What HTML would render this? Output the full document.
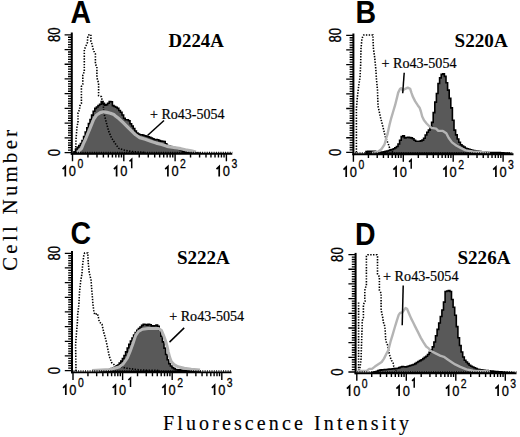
<!DOCTYPE html>
<html><head><meta charset="utf-8"><style>
html,body{margin:0;padding:0;background:#fff;}
body{width:520px;height:437px;overflow:hidden;}
svg{display:block;}
.tl{font-family:"Liberation Sans",sans-serif;font-size:14px;fill:#000;stroke:#000;stroke-width:0.3px;}
.ts{font-family:"Liberation Sans",sans-serif;font-size:12.5px;fill:#000;stroke:#000;stroke-width:0.3px;}
.yl{font-family:"Liberation Sans",sans-serif;font-size:16.5px;fill:#000;stroke:#000;stroke-width:0.3px;}
.ro{font-family:"Liberation Serif",serif;font-size:14px;fill:#000;stroke:#000;stroke-width:0.2px;}
.ti{font-family:"Liberation Serif",serif;font-size:18.5px;font-weight:bold;fill:#000;}
.pl{font-family:"Liberation Sans",sans-serif;font-size:28.5px;font-weight:bold;fill:#000;}
.ax{font-family:"Liberation Serif",serif;font-size:20px;fill:#000;stroke:#000;stroke-width:0.15px;}
.ay{font-family:"Liberation Serif",serif;font-size:20.6px;fill:#000;stroke:#000;stroke-width:0.15px;}
</style></head><body>
<svg width="520" height="437" viewBox="0 0 520 437">
<rect width="520" height="437" fill="#fff"/>
<path d="M74.00 153.50V151.90H75.60V148.99H77.20V147.33H78.80V145.53H80.40V143.59H82.00V140.64H83.60V136.60H85.20V132.05H86.80V127.73H88.40V123.54H90.00V119.43H91.60V115.10H93.20V111.30H94.80V108.42H96.40V106.94H98.00V105.54H99.60V104.23H101.20V101.59H102.80V103.35H104.40V105.20H106.00V104.67H107.60V103.20H109.20V101.45H110.80V101.76H112.40V105.66H114.00V106.49H115.60V107.32H117.20V108.40H118.80V110.53H120.40V112.20H122.00V115.06H123.60V118.18H125.20V119.70H126.80V119.70H128.40V120.68H130.00V123.80H131.60V125.93H133.20V128.47H134.80V130.93H136.40V132.95H138.00V134.13H139.60V134.80H141.20V134.80H142.80V135.18H144.40V135.73H146.00V136.27H147.60V136.81H149.20V137.36H150.80V138.04H152.40V138.82H154.00V139.60H155.60V139.60H157.20V139.81H158.80V140.64H160.40V141.11H162.00V141.30H163.60V141.49H165.20V143.72H166.80V145.43H168.40V146.03H170.00V146.64H171.60V147.13H173.20V147.54H174.80V147.95H176.40V148.47H178.00V149.06H179.60V149.65H181.20V150.73H182.80V151.61H184.40V151.91H186.00V152.21H187.60V152.50H189.20V152.80H190.80V152.88H192.40V152.96H194.00V153.04H195.60V153.12H197.20V153.20H198.80V153.27H200.00V153.30Z" fill="#595959" stroke="#000" stroke-width="1.6" stroke-linejoin="miter"/>
<polyline points="75.5,153.0 76.0,140.0 77.0,126.0 78.0,123.0 78.0,112.7 79.7,109.3 79.7,105.9 81.4,103.6 81.4,86.4 82.8,84.1 82.8,75.1 84.3,71.7 84.3,49.4 85.7,46.6 87.4,42.6 87.8,36.3 89.0,34.8 90.9,34.6 90.9,41.4 92.3,44.9 92.6,47.7 93.9,51.1 95.4,54.0 95.4,64.3 96.9,66.6 96.9,76.1 97.4,79.6 98.6,83.0 98.6,95.6 101.4,96.7 102.0,99.6 103.1,101.9 103.8,112.6 106.3,122.6 108.8,131.4 111.4,137.7 113.9,141.5 116.4,145.3 118.9,148.4 122.7,149.7 127.7,150.9 132.7,151.6 145.0,152.5" fill="none" stroke="#000" stroke-width="1.6" stroke-dasharray="1.4 1.4"/>
<polyline points="77.5,152.5 81.5,148.4 83.3,143.9 85.6,139.0 88.3,132.5 91.0,125.8 93.8,119.0 96.6,115.0 100.3,112.6 103.5,111.8 107.0,112.4 110.4,113.2 113.8,114.6 115.5,116.0 119.1,118.8 123.2,122.7 127.4,126.8 131.5,130.9 135.6,134.8 139.7,137.6 145.2,139.2 150.7,141.2 156.2,143.1 161.7,144.5 167.0,146.3 173.8,147.5 180.8,148.7 185.4,149.8 191.2,150.8 196.0,152.0" fill="none" stroke="#b4b4b4" stroke-width="3.2" stroke-linejoin="round"/>
<path d="M366.00 153.30V151.62H367.60V151.20H369.20V151.20H370.80V151.20H372.40V151.20H374.00V151.20H375.60V152.40H377.20V153.09H378.80V152.75H380.40V152.41H382.00V152.07H383.60V151.73H385.20V151.39H386.80V150.99H388.40V150.52H390.00V150.04H391.60V149.57H393.20V148.81H394.80V147.69H396.40V146.56H398.00V144.06H399.60V140.18H401.20V136.60H402.80V135.73H404.40V137.87H406.00V137.56H407.60V137.40H409.20V137.64H410.80V137.87H412.40V138.70H414.00V140.30H415.60V141.20H417.20V141.20H418.80V141.20H420.40V140.87H422.00V140.12H423.60V138.28H425.20V135.03H426.80V132.25H428.40V130.09H430.00V127.12H431.60V122.39H433.20V112.62H434.80V102.14H436.40V93.54H438.00V83.46H439.60V77.90H441.20V74.40H442.80V73.68H444.40V76.40H446.00V82.80H447.60V90.16H449.20V98.39H450.80V107.92H452.40V120.26H454.00V130.10H455.60V134.90H457.20V138.97H458.80V142.31H460.40V144.77H462.00V145.96H463.60V147.14H465.20V148.20H466.80V148.73H468.40V149.27H470.00V149.80H471.60V150.33H473.20V150.63H474.80V150.89H476.40V151.14H478.00V151.40H479.60V151.61H481.20V151.78H482.80V151.96H484.40V152.13H486.00V152.30H487.60V152.48H489.20V152.50H490.80V152.50H492.40V152.50H494.00V152.50H495.60V152.50H497.20V152.52H498.80V152.62H500.40V152.73H502.00V152.83H503.60V152.94H505.20V153.04H506.80V153.14H508.40V153.25H510.00V153.30Z" fill="#595959" stroke="#000" stroke-width="1.6" stroke-linejoin="miter"/>
<polyline points="356.4,152.5 356.4,108.7 357.3,97.7 358.8,85.0 360.0,77.6 360.6,66.6 361.0,48.3 361.9,39.2 362.8,36.4 363.7,35.0 372.9,35.0 373.4,48.3 374.7,57.5 375.6,66.6 376.5,79.4 377.5,90.4 378.0,106.0 380.5,117.2 382.9,126.8 385.3,136.5 388.5,144.5 390.0,149.3 393.0,152.5" fill="none" stroke="#000" stroke-width="1.6" stroke-dasharray="1.4 1.4"/>
<polyline points="372.0,153.0 378.0,151.7 381.3,149.3 384.5,144.5 386.3,138.0 387.5,134.2 389.4,125.3 391.3,117.8 393.2,111.5 395.1,105.2 397.0,97.6 398.2,92.6 400.1,88.8 401.4,88.2 402.6,90.5 405.2,88.8 407.7,87.6 410.2,88.8 411.4,92.6 412.7,96.4 415.2,101.4 417.7,105.2 419.6,107.7 420.9,111.5 422.2,116.5 424.0,120.3 426.6,123.5 429.1,126.0 431.6,127.9 436.0,128.6 438.3,130.9 442.9,130.9 446.3,133.2 448.6,137.8 452.0,142.4 456.6,145.8 461.1,148.1 465.7,150.4 472.6,151.5 490.0,152.8" fill="none" stroke="#b4b4b4" stroke-width="2.4" stroke-linejoin="round"/>
<path d="M100.00 371.60V371.43H101.60V371.10H103.20V370.76H104.80V370.42H106.40V370.09H108.00V369.75H109.60V369.31H111.20V368.54H112.80V367.77H114.40V367.00H116.00V366.23H117.60V364.98H119.20V363.11H120.80V361.09H122.40V358.66H124.00V355.54H125.60V351.84H127.20V348.00H128.80V344.34H130.40V341.00H132.00V337.93H133.60V335.09H135.20V332.59H136.80V330.25H138.40V328.60H140.00V327.00H141.60V325.40H143.20V324.25H144.80V324.45H146.40V325.25H148.00V324.25H149.60V324.72H151.20V325.92H152.80V326.00H154.40V325.80H156.00V325.00H157.60V326.24H159.20V330.27H160.80V336.27H162.40V341.89H164.00V348.17H165.60V354.46H167.20V359.80H168.80V363.69H170.40V366.03H172.00V367.66H173.60V368.58H175.20V369.50H176.80V369.68H178.40V369.86H180.00V370.03H181.60V370.21H183.20V370.39H184.80V370.54H186.40V370.65H188.00V370.75H189.60V370.86H191.20V370.97H192.80V371.07H194.40V371.18H196.00V371.29H197.60V371.39H199.20V371.47H200.00V371.50Z" fill="#595959" stroke="#000" stroke-width="1.6" stroke-linejoin="miter"/>
<polyline points="76.0,371.0 75.6,345.0 76.4,333.8 77.3,323.7 77.7,314.6 78.8,305.4 79.5,292.6 80.6,281.6 81.9,274.3 82.8,263.3 83.7,256.0 84.6,253.0 87.8,253.0 88.3,263.3 89.2,272.5 91.0,279.8 92.0,292.6 92.9,303.6 93.8,310.9 94.7,314.6 97.5,313.6 98.4,317.3 99.3,321.9 102.0,324.2 103.7,332.2 106.0,340.2 107.7,348.2 109.3,356.3 111.7,362.7 115.7,365.9 119.7,365.9 125.0,368.0 140.0,370.0 160.0,370.5" fill="none" stroke="#000" stroke-width="1.6" stroke-dasharray="1.4 1.4"/>
<polyline points="92.0,370.5 110.0,369.5 119.0,367.0 123.2,364.0 127.4,358.0 130.1,351.5 132.9,343.8 135.6,335.6 138.4,331.5 142.5,329.2 148.0,328.5 153.5,328.5 158.5,328.5 161.5,330.5 163.4,335.0 165.4,340.5 167.0,346.0 168.2,351.5 169.6,357.0 171.2,361.5 174.0,364.5 178.0,366.8 184.3,368.3 191.2,369.2 200.0,370.0" fill="none" stroke="#b4b4b4" stroke-width="3.0" stroke-linejoin="round"/>
<path d="M371.50 372.80V372.58H373.10V372.13H374.70V371.68H376.30V371.23H377.90V370.67H379.50V370.11H381.10V369.89H382.70V369.75H384.30V369.61H385.90V369.46H387.50V369.29H389.10V369.12H390.70V368.95H392.30V368.79H393.90V368.62H395.50V368.46H397.10V368.26H398.70V367.61H400.30V366.96H401.90V366.65H403.50V366.77H405.10V366.89H406.70V366.46H408.30V365.98H409.90V365.51H411.50V365.03H413.10V364.56H414.70V363.59H416.30V362.54H417.90V361.50H419.50V360.59H421.10V359.73H422.70V358.64H424.30V357.42H425.90V356.21H427.50V354.53H429.10V352.38H430.70V350.10H432.30V346.90H433.90V342.00H435.50V335.79H437.10V329.40H438.70V322.98H440.30V316.51H441.90V310.05H443.50V302.12H445.10V291.52H446.70V291.03H448.30V290.45H449.90V291.53H451.50V299.56H453.10V307.32H454.70V315.30H456.30V326.60H457.90V337.75H459.50V345.50H461.10V351.96H462.70V357.00H464.30V360.20H465.90V362.00H467.50V363.60H469.10V365.20H470.70V366.20H472.30V367.00H473.90V367.80H475.50V368.60H477.10V369.40H478.70V369.61H480.30V369.82H481.90V370.02H483.50V370.23H485.10V370.44H486.70V370.65H488.30V370.82H489.90V370.98H491.50V371.14H493.10V371.30H494.70V371.45H496.30V371.61H497.90V371.77H499.50V371.92H501.10V372.02H502.70V372.13H504.30V372.23H505.90V372.33H507.50V372.43H509.10V372.54H510.70V372.64H512.30V372.74H513.90V372.80H514.00V372.80Z" fill="#595959" stroke="#000" stroke-width="1.6" stroke-linejoin="miter"/>
<polyline points="359.5,371.0 361.0,360.0 362.1,326.9 362.3,320.6 363.4,317.7 363.4,304.6 365.1,301.1 364.8,298.3 364.8,291.4 365.1,288.6 366.4,285.5 366.4,256.2 367.5,254.7 377.0,254.7 377.5,256.5 377.5,274.0 379.4,276.8 379.4,290.3 381.1,293.1 381.1,308.6 381.7,313.1 382.6,316.6 383.4,322.3 384.6,325.7 385.1,329.1 385.4,334.6 385.8,340.9 387.5,344.9 388.6,350.0 389.2,353.5 390.3,357.5 391.5,360.3 393.2,363.2 393.8,366.6 396.0,371.0" fill="none" stroke="#000" stroke-width="1.6" stroke-dasharray="1.4 1.4"/>
<polyline points="358.6,371.0 358.6,301.0" fill="none" stroke="#000" stroke-width="1.6" stroke-dasharray="1.4 1.4"/>
<polyline points="358.0,371.2 366.9,370.6 369.2,368.9 372.0,368.9 374.9,366.6 378.3,364.3 381.7,362.0 384.0,358.6 386.3,354.0 388.4,350.0 390.5,341.7 392.6,334.8 394.6,328.0 396.7,321.1 398.7,314.9 400.1,312.9 402.2,312.5 405.6,308.0 407.0,308.7 409.0,313.5 411.1,318.4 413.2,322.5 415.2,326.6 418.0,332.1 420.7,337.6 423.5,342.4 426.2,346.5 429.0,348.6 430.0,350.5 435.1,353.1 440.1,355.6 443.9,356.8 447.7,359.4 451.4,361.9 455.2,364.4 460.3,366.9 466.5,369.4 472.8,370.7 490.0,371.5" fill="none" stroke="#b4b4b4" stroke-width="2.4" stroke-linejoin="round"/>
<line x1="71.8" y1="32.5" x2="71.8" y2="154.7" stroke="#000" stroke-width="2"/>
<line x1="70.8" y1="153.8" x2="232.3" y2="153.8" stroke="#000" stroke-width="1.9"/>
<line x1="73.3" y1="152.4" x2="232.3" y2="152.4" stroke="#000" stroke-width="1.3" stroke-dasharray="1 1.3"/>
<path d="M71.8 152.60H64.6M71.8 150.15H68.0M71.8 147.69H68.0M71.8 145.24H68.0M71.8 142.78H68.0M71.8 140.33H68.0M71.8 137.88H64.6M71.8 135.42H68.0M71.8 132.97H68.0M71.8 130.51H68.0M71.8 128.06H68.0M71.8 125.60H68.0M71.8 123.15H64.6M71.8 120.70H68.0M71.8 118.24H68.0M71.8 115.79H68.0M71.8 113.33H68.0M71.8 110.88H68.0M71.8 108.42H64.6M71.8 105.97H68.0M71.8 103.52H68.0M71.8 101.06H68.0M71.8 98.61H68.0M71.8 96.15H68.0M71.8 93.70H64.6M71.8 91.25H68.0M71.8 88.79H68.0M71.8 86.34H68.0M71.8 83.88H68.0M71.8 81.43H68.0M71.8 78.97H64.6M71.8 76.52H68.0M71.8 74.07H68.0M71.8 71.61H68.0M71.8 69.16H68.0M71.8 66.70H68.0M71.8 64.25H64.6M71.8 61.80H68.0M71.8 59.34H68.0M71.8 56.89H68.0M71.8 54.43H68.0M71.8 51.98H68.0M71.8 49.53H64.6M71.8 47.07H68.0M71.8 44.62H68.0M71.8 42.16H68.0M71.8 39.71H68.0M71.8 37.25H68.0M71.8 34.80H64.6" stroke="#000" stroke-width="1.3" fill="none"/>
<path d="M72.50 153.8V161.3M87.94 153.8V157.6M96.98 153.8V157.6M103.39 153.8V157.6M108.36 153.8V157.6M112.42 153.8V157.6M115.85 153.8V157.6M118.83 153.8V157.6M121.45 153.8V157.6M123.80 153.8V161.3M139.24 153.8V157.6M148.28 153.8V157.6M154.69 153.8V157.6M159.66 153.8V157.6M163.72 153.8V157.6M167.15 153.8V157.6M170.13 153.8V157.6M172.75 153.8V157.6M175.10 153.8V161.3M190.54 153.8V157.6M199.58 153.8V157.6M205.99 153.8V157.6M210.96 153.8V157.6M215.02 153.8V157.6M218.45 153.8V157.6M221.43 153.8V157.6M224.05 153.8V157.6M226.40 153.8V161.3" stroke="#000" stroke-width="1.4" fill="none"/>
<path d="M65.30 176.40V166.60L62.60 169.17" stroke="#000" stroke-width="1.7" fill="none" stroke-linejoin="miter"/>
<text x="68.85" y="176.4" class="tl" textLength="7.15" lengthAdjust="spacingAndGlyphs">0</text>
<text x="77.5" y="168.3" class="ts" textLength="5.8" lengthAdjust="spacingAndGlyphs">0</text>
<path d="M116.60 176.40V166.60L113.90 169.17" stroke="#000" stroke-width="1.7" fill="none" stroke-linejoin="miter"/>
<text x="120.15" y="176.4" class="tl" textLength="7.15" lengthAdjust="spacingAndGlyphs">0</text>
<path d="M131.71 168.30V159.30L129.53 161.38" stroke="#000" stroke-width="1.5" fill="none" stroke-linejoin="miter"/>
<path d="M167.90 176.40V166.60L165.20 169.17" stroke="#000" stroke-width="1.7" fill="none" stroke-linejoin="miter"/>
<text x="171.45" y="176.4" class="tl" textLength="7.15" lengthAdjust="spacingAndGlyphs">0</text>
<text x="180.1" y="168.3" class="ts" textLength="5.8" lengthAdjust="spacingAndGlyphs">2</text>
<path d="M219.20 176.40V166.60L216.50 169.17" stroke="#000" stroke-width="1.7" fill="none" stroke-linejoin="miter"/>
<text x="222.75" y="176.4" class="tl" textLength="7.15" lengthAdjust="spacingAndGlyphs">0</text>
<text x="231.4" y="168.3" class="ts" textLength="5.8" lengthAdjust="spacingAndGlyphs">3</text>
<text transform="translate(59.5,42.1) rotate(-90)" class="yl" textLength="14.6" lengthAdjust="spacingAndGlyphs">80</text>
<text transform="translate(59.5,156.3) rotate(-90)" class="yl" textLength="7.3" lengthAdjust="spacingAndGlyphs">0</text>
<line x1="353.4" y1="33.5" x2="353.4" y2="155.2" stroke="#000" stroke-width="2"/>
<line x1="352.4" y1="154.3" x2="513.5" y2="154.3" stroke="#000" stroke-width="1.9"/>
<line x1="354.9" y1="152.9" x2="513.5" y2="152.9" stroke="#000" stroke-width="1.3" stroke-dasharray="1 1.3"/>
<path d="M353.4 152.40H346.2M353.4 149.96H349.6M353.4 147.52H349.6M353.4 145.08H349.6M353.4 142.64H349.6M353.4 140.20H349.6M353.4 137.76H346.2M353.4 135.32H349.6M353.4 132.88H349.6M353.4 130.44H349.6M353.4 128.00H349.6M353.4 125.56H349.6M353.4 123.12H346.2M353.4 120.69H349.6M353.4 118.25H349.6M353.4 115.81H349.6M353.4 113.37H349.6M353.4 110.93H349.6M353.4 108.49H346.2M353.4 106.05H349.6M353.4 103.61H349.6M353.4 101.17H349.6M353.4 98.73H349.6M353.4 96.29H349.6M353.4 93.85H346.2M353.4 91.41H349.6M353.4 88.97H349.6M353.4 86.53H349.6M353.4 84.09H349.6M353.4 81.65H349.6M353.4 79.21H346.2M353.4 76.77H349.6M353.4 74.33H349.6M353.4 71.89H349.6M353.4 69.45H349.6M353.4 67.01H349.6M353.4 64.58H346.2M353.4 62.14H349.6M353.4 59.70H349.6M353.4 57.26H349.6M353.4 54.82H349.6M353.4 52.38H349.6M353.4 49.94H346.2M353.4 47.50H349.6M353.4 45.06H349.6M353.4 42.62H349.6M353.4 40.18H349.6M353.4 37.74H349.6M353.4 35.30H346.2" stroke="#000" stroke-width="1.3" fill="none"/>
<path d="M353.40 154.3V161.8M368.42 154.3V158.1M377.21 154.3V158.1M383.44 154.3V158.1M388.28 154.3V158.1M392.23 154.3V158.1M395.57 154.3V158.1M398.46 154.3V158.1M401.02 154.3V158.1M403.30 154.3V161.8M418.32 154.3V158.1M427.11 154.3V158.1M433.34 154.3V158.1M438.18 154.3V158.1M442.13 154.3V158.1M445.47 154.3V158.1M448.36 154.3V158.1M450.92 154.3V158.1M453.20 154.3V161.8M468.22 154.3V158.1M477.01 154.3V158.1M483.24 154.3V158.1M488.08 154.3V158.1M492.03 154.3V158.1M495.37 154.3V158.1M498.26 154.3V158.1M500.82 154.3V158.1M503.10 154.3V161.8" stroke="#000" stroke-width="1.4" fill="none"/>
<path d="M346.20 176.90V167.10L343.50 169.67" stroke="#000" stroke-width="1.7" fill="none" stroke-linejoin="miter"/>
<text x="349.75" y="176.9" class="tl" textLength="7.15" lengthAdjust="spacingAndGlyphs">0</text>
<text x="358.4" y="168.8" class="ts" textLength="5.8" lengthAdjust="spacingAndGlyphs">0</text>
<path d="M396.10 176.90V167.10L393.40 169.67" stroke="#000" stroke-width="1.7" fill="none" stroke-linejoin="miter"/>
<text x="399.65" y="176.9" class="tl" textLength="7.15" lengthAdjust="spacingAndGlyphs">0</text>
<path d="M411.21 168.80V159.80L409.03 161.88" stroke="#000" stroke-width="1.5" fill="none" stroke-linejoin="miter"/>
<path d="M446.00 176.90V167.10L443.30 169.67" stroke="#000" stroke-width="1.7" fill="none" stroke-linejoin="miter"/>
<text x="449.55" y="176.9" class="tl" textLength="7.15" lengthAdjust="spacingAndGlyphs">0</text>
<text x="458.2" y="168.8" class="ts" textLength="5.8" lengthAdjust="spacingAndGlyphs">2</text>
<path d="M495.90 176.90V167.10L493.20 169.67" stroke="#000" stroke-width="1.7" fill="none" stroke-linejoin="miter"/>
<text x="499.45" y="176.9" class="tl" textLength="7.15" lengthAdjust="spacingAndGlyphs">0</text>
<text x="508.1" y="168.8" class="ts" textLength="5.8" lengthAdjust="spacingAndGlyphs">3</text>
<text transform="translate(341.1,42.6) rotate(-90)" class="yl" textLength="14.6" lengthAdjust="spacingAndGlyphs">80</text>
<text transform="translate(341.1,156.1) rotate(-90)" class="yl" textLength="7.3" lengthAdjust="spacingAndGlyphs">0</text>
<line x1="72.0" y1="251.0" x2="72.0" y2="373.3" stroke="#000" stroke-width="2"/>
<line x1="71.0" y1="372.4" x2="231.5" y2="372.4" stroke="#000" stroke-width="1.9"/>
<line x1="73.5" y1="371.0" x2="231.5" y2="371.0" stroke="#000" stroke-width="1.3" stroke-dasharray="1 1.3"/>
<path d="M72.0 370.60H64.8M72.0 368.16H68.2M72.0 365.71H68.2M72.0 363.27H68.2M72.0 360.83H68.2M72.0 358.38H68.2M72.0 355.94H64.8M72.0 353.49H68.2M72.0 351.05H68.2M72.0 348.61H68.2M72.0 346.16H68.2M72.0 343.72H68.2M72.0 341.28H64.8M72.0 338.83H68.2M72.0 336.39H68.2M72.0 333.94H68.2M72.0 331.50H68.2M72.0 329.06H68.2M72.0 326.61H64.8M72.0 324.17H68.2M72.0 321.73H68.2M72.0 319.28H68.2M72.0 316.84H68.2M72.0 314.39H68.2M72.0 311.95H64.8M72.0 309.51H68.2M72.0 307.06H68.2M72.0 304.62H68.2M72.0 302.18H68.2M72.0 299.73H68.2M72.0 297.29H64.8M72.0 294.84H68.2M72.0 292.40H68.2M72.0 289.96H68.2M72.0 287.51H68.2M72.0 285.07H68.2M72.0 282.62H64.8M72.0 280.18H68.2M72.0 277.74H68.2M72.0 275.29H68.2M72.0 272.85H68.2M72.0 270.41H68.2M72.0 267.96H64.8M72.0 265.52H68.2M72.0 263.07H68.2M72.0 260.63H68.2M72.0 258.19H68.2M72.0 255.74H68.2M72.0 253.30H64.8" stroke="#000" stroke-width="1.3" fill="none"/>
<path d="M73.00 372.4V379.9M87.93 372.4V376.2M96.67 372.4V376.2M102.86 372.4V376.2M107.67 372.4V376.2M111.60 372.4V376.2M114.92 372.4V376.2M117.79 372.4V376.2M120.33 372.4V376.2M122.60 372.4V379.9M137.53 372.4V376.2M146.27 372.4V376.2M152.46 372.4V376.2M157.27 372.4V376.2M161.20 372.4V376.2M164.52 372.4V376.2M167.39 372.4V376.2M169.93 372.4V376.2M172.20 372.4V379.9M187.13 372.4V376.2M195.87 372.4V376.2M202.06 372.4V376.2M206.87 372.4V376.2M210.80 372.4V376.2M214.12 372.4V376.2M216.99 372.4V376.2M219.53 372.4V376.2M221.80 372.4V379.9" stroke="#000" stroke-width="1.4" fill="none"/>
<path d="M65.80 395.00V385.20L63.10 387.77" stroke="#000" stroke-width="1.7" fill="none" stroke-linejoin="miter"/>
<text x="69.35" y="395.0" class="tl" textLength="7.15" lengthAdjust="spacingAndGlyphs">0</text>
<text x="78.0" y="386.9" class="ts" textLength="5.8" lengthAdjust="spacingAndGlyphs">0</text>
<path d="M115.40 395.00V385.20L112.70 387.77" stroke="#000" stroke-width="1.7" fill="none" stroke-linejoin="miter"/>
<text x="118.95" y="395.0" class="tl" textLength="7.15" lengthAdjust="spacingAndGlyphs">0</text>
<path d="M130.51 386.90V377.90L128.33 379.98" stroke="#000" stroke-width="1.5" fill="none" stroke-linejoin="miter"/>
<path d="M165.00 395.00V385.20L162.30 387.77" stroke="#000" stroke-width="1.7" fill="none" stroke-linejoin="miter"/>
<text x="168.55" y="395.0" class="tl" textLength="7.15" lengthAdjust="spacingAndGlyphs">0</text>
<text x="177.2" y="386.9" class="ts" textLength="5.8" lengthAdjust="spacingAndGlyphs">2</text>
<path d="M214.60 395.00V385.20L211.90 387.77" stroke="#000" stroke-width="1.7" fill="none" stroke-linejoin="miter"/>
<text x="218.15" y="395.0" class="tl" textLength="7.15" lengthAdjust="spacingAndGlyphs">0</text>
<text x="226.8" y="386.9" class="ts" textLength="5.8" lengthAdjust="spacingAndGlyphs">3</text>
<text transform="translate(59.7,260.6) rotate(-90)" class="yl" textLength="14.6" lengthAdjust="spacingAndGlyphs">80</text>
<text transform="translate(59.7,374.3) rotate(-90)" class="yl" textLength="7.3" lengthAdjust="spacingAndGlyphs">0</text>
<line x1="355.6" y1="252.9" x2="355.6" y2="374.2" stroke="#000" stroke-width="2"/>
<line x1="354.6" y1="373.3" x2="516.5" y2="373.3" stroke="#000" stroke-width="1.9"/>
<line x1="357.1" y1="371.9" x2="516.5" y2="371.9" stroke="#000" stroke-width="1.3" stroke-dasharray="1 1.3"/>
<path d="M355.6 372.00H348.4M355.6 369.55H351.8M355.6 367.11H351.8M355.6 364.66H351.8M355.6 362.22H351.8M355.6 359.77H351.8M355.6 357.32H348.4M355.6 354.88H351.8M355.6 352.43H351.8M355.6 349.99H351.8M355.6 347.54H351.8M355.6 345.10H351.8M355.6 342.65H348.4M355.6 340.20H351.8M355.6 337.76H351.8M355.6 335.31H351.8M355.6 332.87H351.8M355.6 330.42H351.8M355.6 327.98H348.4M355.6 325.53H351.8M355.6 323.08H351.8M355.6 320.64H351.8M355.6 318.19H351.8M355.6 315.75H351.8M355.6 313.30H348.4M355.6 310.85H351.8M355.6 308.41H351.8M355.6 305.96H351.8M355.6 303.52H351.8M355.6 301.07H351.8M355.6 298.62H348.4M355.6 296.18H351.8M355.6 293.73H351.8M355.6 291.29H351.8M355.6 288.84H351.8M355.6 286.40H351.8M355.6 283.95H348.4M355.6 281.50H351.8M355.6 279.06H351.8M355.6 276.61H351.8M355.6 274.17H351.8M355.6 271.72H351.8M355.6 269.27H348.4M355.6 266.83H351.8M355.6 264.38H351.8M355.6 261.94H351.8M355.6 259.49H351.8M355.6 257.05H351.8M355.6 254.60H348.4" stroke="#000" stroke-width="1.3" fill="none"/>
<path d="M356.80 373.3V380.8M371.70 373.3V377.1M380.42 373.3V377.1M386.60 373.3V377.1M391.40 373.3V377.1M395.32 373.3V377.1M398.63 373.3V377.1M401.50 373.3V377.1M404.04 373.3V377.1M406.30 373.3V380.8M421.20 373.3V377.1M429.92 373.3V377.1M436.10 373.3V377.1M440.90 373.3V377.1M444.82 373.3V377.1M448.13 373.3V377.1M451.00 373.3V377.1M453.54 373.3V377.1M455.80 373.3V380.8M470.70 373.3V377.1M479.42 373.3V377.1M485.60 373.3V377.1M490.40 373.3V377.1M494.32 373.3V377.1M497.63 373.3V377.1M500.50 373.3V377.1M503.04 373.3V377.1M505.30 373.3V380.8" stroke="#000" stroke-width="1.4" fill="none"/>
<path d="M349.60 395.90V386.10L346.90 388.67" stroke="#000" stroke-width="1.7" fill="none" stroke-linejoin="miter"/>
<text x="353.15" y="395.9" class="tl" textLength="7.15" lengthAdjust="spacingAndGlyphs">0</text>
<text x="361.8" y="387.8" class="ts" textLength="5.8" lengthAdjust="spacingAndGlyphs">0</text>
<path d="M399.10 395.90V386.10L396.40 388.67" stroke="#000" stroke-width="1.7" fill="none" stroke-linejoin="miter"/>
<text x="402.65" y="395.9" class="tl" textLength="7.15" lengthAdjust="spacingAndGlyphs">0</text>
<path d="M414.21 387.80V378.80L412.03 380.88" stroke="#000" stroke-width="1.5" fill="none" stroke-linejoin="miter"/>
<path d="M448.60 395.90V386.10L445.90 388.67" stroke="#000" stroke-width="1.7" fill="none" stroke-linejoin="miter"/>
<text x="452.15" y="395.9" class="tl" textLength="7.15" lengthAdjust="spacingAndGlyphs">0</text>
<text x="460.8" y="387.8" class="ts" textLength="5.8" lengthAdjust="spacingAndGlyphs">2</text>
<path d="M498.10 395.90V386.10L495.40 388.67" stroke="#000" stroke-width="1.7" fill="none" stroke-linejoin="miter"/>
<text x="501.65" y="395.9" class="tl" textLength="7.15" lengthAdjust="spacingAndGlyphs">0</text>
<text x="510.3" y="387.8" class="ts" textLength="5.8" lengthAdjust="spacingAndGlyphs">3</text>
<text transform="translate(343.3,261.9) rotate(-90)" class="yl" textLength="14.6" lengthAdjust="spacingAndGlyphs">80</text>
<text transform="translate(343.3,375.7) rotate(-90)" class="yl" textLength="7.3" lengthAdjust="spacingAndGlyphs">0</text>
<line x1="164" y1="120.5" x2="147.5" y2="135.5" stroke="#000" stroke-width="1.5"/>
<line x1="404.2" y1="72.7" x2="402.7" y2="93.3" stroke="#000" stroke-width="1.5"/>
<line x1="184.2" y1="327.9" x2="169.5" y2="342.1" stroke="#000" stroke-width="1.5"/>
<line x1="403.2" y1="285.5" x2="402.2" y2="325.2" stroke="#000" stroke-width="1.5"/>
<text x="150.0" y="119.0" class="ro" textLength="74.6" lengthAdjust="spacingAndGlyphs">+ Ro43-5054</text>
<text x="381.5" y="68.3" class="ro" textLength="75.0" lengthAdjust="spacingAndGlyphs">+ Ro43-5054</text>
<text x="169.2" y="320.8" class="ro" textLength="75.0" lengthAdjust="spacingAndGlyphs">+ Ro43-5054</text>
<text x="383.0" y="281.3" class="ro" textLength="75.5" lengthAdjust="spacingAndGlyphs">+ Ro43-5054</text>
<text x="168.5" y="46.9" class="ti" textLength="55.3" lengthAdjust="spacingAndGlyphs">D224A</text>
<text x="454.6" y="46.9" class="ti" textLength="53.1" lengthAdjust="spacingAndGlyphs">S220A</text>
<text x="176.9" y="264.2" class="ti" textLength="52.9" lengthAdjust="spacingAndGlyphs">S222A</text>
<text x="457.5" y="264.2" class="ti" textLength="52.9" lengthAdjust="spacingAndGlyphs">S226A</text>
<text transform="translate(70.5,23.0) scale(1,1.1)" class="pl">A</text>
<text transform="translate(355.5,22.8) scale(1,1.1)" class="pl">B</text>
<text transform="translate(70.5,244.0) scale(1,1.1)" class="pl">C</text>
<text transform="translate(355.0,244.5) scale(1,1.1)" class="pl">D</text>
<text transform="translate(17.0,270.8) rotate(-90)" class="ay" textLength="141" lengthAdjust="spacing">Cell Number</text>
<text x="163.0" y="429.8" class="ax" textLength="246" lengthAdjust="spacing">Fluorescence Intensity</text>
</svg>
</body></html>
